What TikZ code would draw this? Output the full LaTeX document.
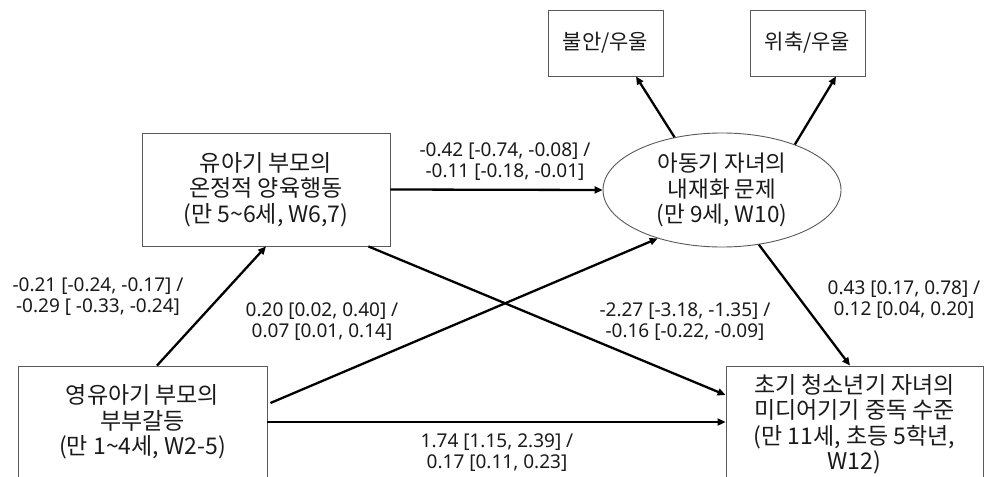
\documentclass[tikz,border=0pt]{standalone}
\usepackage{fontspec}
\setmainfont{Noto Sans}
\newfontfamily\kr{Noto Sans CJK KR}
\usetikzlibrary{shapes.geometric,arrows.meta}
\definecolor{boxline}{HTML}{595959}
\definecolor{txt}{HTML}{1A1A1A}
\tikzset{
  x=1pt,y=-1pt,
  varbox/.style={draw=boxline,line width=0.9pt,rectangle,align=center,text=txt,
    font=\kr\fontsize{23}{25.5}\selectfont,inner sep=0pt},
  smallbox/.style={varbox,font=\kr\fontsize{21}{24}\selectfont,
    minimum width=115pt,minimum height=66pt},
  latent/.style={draw=boxline,line width=0.9pt,ellipse,align=center,text=txt,
    font=\kr\fontsize{22.5}{25.5}\selectfont,inner sep=0pt},
  coef/.style={align=center,text=txt,font=\fontsize{19}{21}\selectfont,inner sep=0pt},
  arr/.style={line width=2.3pt,-{Triangle[length=8pt,width=7pt]}}
}
\begin{document}
\begin{tikzpicture}
\useasboundingbox (0,0) rectangle (984,476);
% nodes
\node[varbox,minimum width=248pt,minimum height=113pt] (pb) at (266,189.5)
  {유아기 부모의\\온정적 양육행동\\(만 5\textasciitilde6세, W6,7)};
\node[smallbox] (anx) at (605.5,43) {불안/우울};
\node[smallbox] (wd) at (807.5,43) {위축/우울};
\node[latent,minimum width=238pt,minimum height=114pt] (int) at (722,190)
  {아동기 자녀의\\내재화 문제\\(만 9세, W10)};
\node[varbox,minimum width=249pt,minimum height=112pt] (mc) at (142.5,422)
  {영유아기 부모의\\부부갈등\\(만 1\textasciitilde4세, W2-5)};
\node[varbox,minimum width=257pt,minimum height=116pt] (ma) at (854.5,424)
  {초기 청소년기 자녀의\\미디어기기 중독 수준\\(만 11세, 초등 5학년,\\W12)};
% connectors
\draw[arr] ([xshift=14.5pt]mc.north) -- (pb.south);
\draw[arr] (pb.east) -- (int.west);
\draw[arr] ([xshift=-22pt]pb.south east) -- ([yshift=29pt]ma.west);
\draw[arr] ([xshift=3pt,yshift=19pt]mc.east) -- (int.217.4);
\draw[arr] (mc.east) -- (mc.east -| ma.west);
\draw[arr] (int.304.4) -- ([xshift=-4.5pt]ma.north);
\draw[arr] (int.132) -- ([xshift=30.5pt]anx.south);
\draw[arr] (int.32) -- ([xshift=28.5pt]wd.south);
% coefficient labels
\node[coef] (c1) at (505,162) {-0.42 [-0.74, -0.08] /\\-0.11 [-0.18, -0.01]};
\node[coef] (c2) at (98,297) {-0.21 [-0.24, -0.17] /\\-0.29 [ -0.33, -0.24]};
\node[coef] (c3) at (322,322) {0.20 [0.02, 0.40] /\\0.07 [0.01, 0.14]};
\node[coef] (c4) at (685,322) {-2.27 [-3.18, -1.35] /\\-0.16 [-0.22, -0.09]};
\node[coef] (c5) at (904,300) {0.43 [0.17, 0.78] /\\0.12 [0.04, 0.20]};
\node[coef] (c6) at (497,453) {1.74 [1.15, 2.39] /\\0.17 [0.11, 0.23]};
\end{tikzpicture}
\end{document}
